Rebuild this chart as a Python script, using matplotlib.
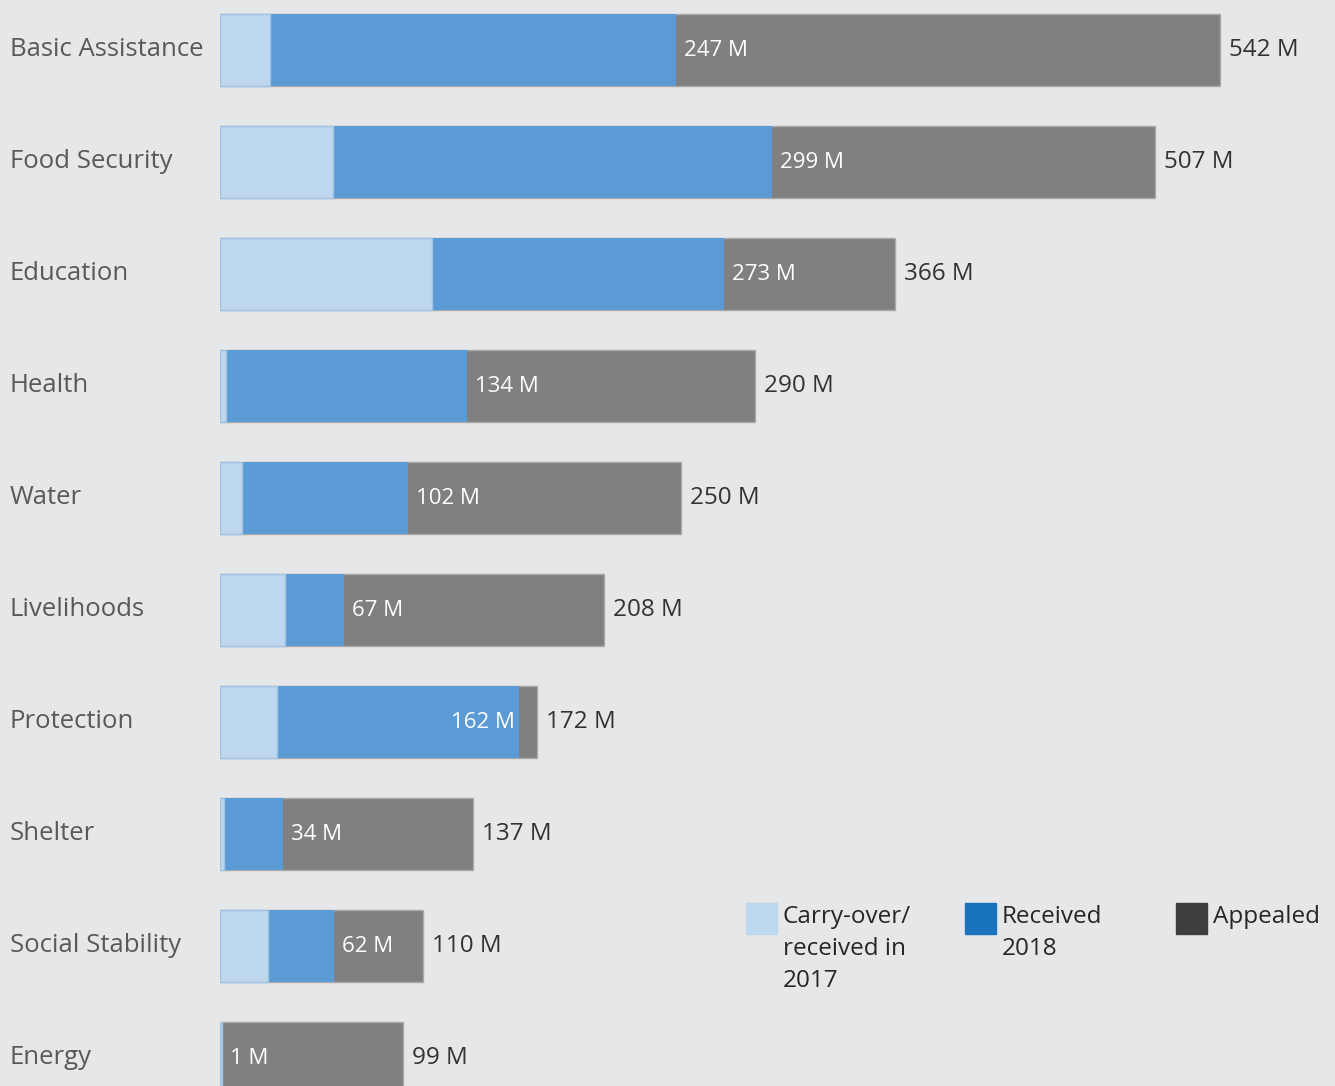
import numpy as np
import matplotlib.pyplot as plt
from matplotlib.patches import Rectangle

# Funding by sector (million USD)
categories = ['Basic Assistance', 'Food Security', 'Education', 'Health', 'Water',
              'Livelihoods', 'Protection', 'Shelter', 'Social Stability', 'Energy']
appealed = [542, 507, 366, 290, 250, 208, 172, 137, 110, 99]
funded = [247, 299, 273, 134, 102, 67, 162, 34, 62, 1]       # carry-over + received 2018
carry_over = [27, 61, 115, 3, 12, 35, 31, 2, 26, 1]
received = [f - c for f, c in zip(funded, carry_over)]

legend_labels = ['Carry-over/\nreceived in\n2017', 'Received\n2018', 'Appealed']

bg = '#e6e7e9'
W, H = 1335, 1086
fig = plt.figure(figsize=(W / 100, H / 100), dpi=100, facecolor=bg)
ax = fig.add_axes([220 / W, 0, 1 - 220 / W, 1])
ax.set_facecolor(bg)

y = np.arange(len(categories))
bh = 0.64
ax.barh(y, appealed, height=bh, color='#808080', edgecolor='#a9a9a9', linewidth=1)
ax.barh(y, received, left=carry_over, height=bh, color='#5b9bd5', linewidth=0)
ax.barh(y, carry_over, height=bh, color='#bdd7ee', edgecolor='#9fc4e4', linewidth=1)

ax.set_xlim(0, 542 * (W - 220) / 1000)
ax.set_ylim((H - 50) / 112, -50 / 112)
ax.axis('off')

font = ['Open Sans', 'DejaVu Sans']

for yi, cat, a, f in zip(y, categories, appealed, funded):
    ax.text(-210 / (W - 220), yi, cat, transform=ax.get_yaxis_transform(),
            ha='left', va='center', fontsize=18.5, color='#595959', family=font)
    ax.annotate(f'{a} M', (a, yi), xytext=(9, 0), textcoords='offset pixels',
                ha='left', va='center', fontsize=17.5, color='#333333', family=font)
    if a - f < 30:
        ax.annotate(f'{f} M', (f, yi), xytext=(-4, 0), textcoords='offset pixels',
                    ha='right', va='center', fontsize=16, color='white', family=font)
    else:
        ax.annotate(f'{f} M', (f, yi), xytext=(8, 0), textcoords='offset pixels',
                    ha='left', va='center', fontsize=16, color='white', family=font)

# legend (colours differ slightly from the bars in the original)
leg_colors = ['#bdd7ee', '#1a74bd', '#3f3f3f']
leg_x = [746, 965, 1176]
for lx, c, lab in zip(leg_x, leg_colors, legend_labels):
    fig.patches.append(Rectangle((lx / W, 1 - 934 / H), 31 / W, 31 / H,
                                 transform=fig.transFigure, color=c))
    fig.text((lx + 37) / W, 1 - 905 / H, lab, ha='left', va='top', fontsize=17.5,
             color='#262626', family=font, linespacing=1.45)

fig.savefig('out.png', dpi=100, facecolor=bg)
